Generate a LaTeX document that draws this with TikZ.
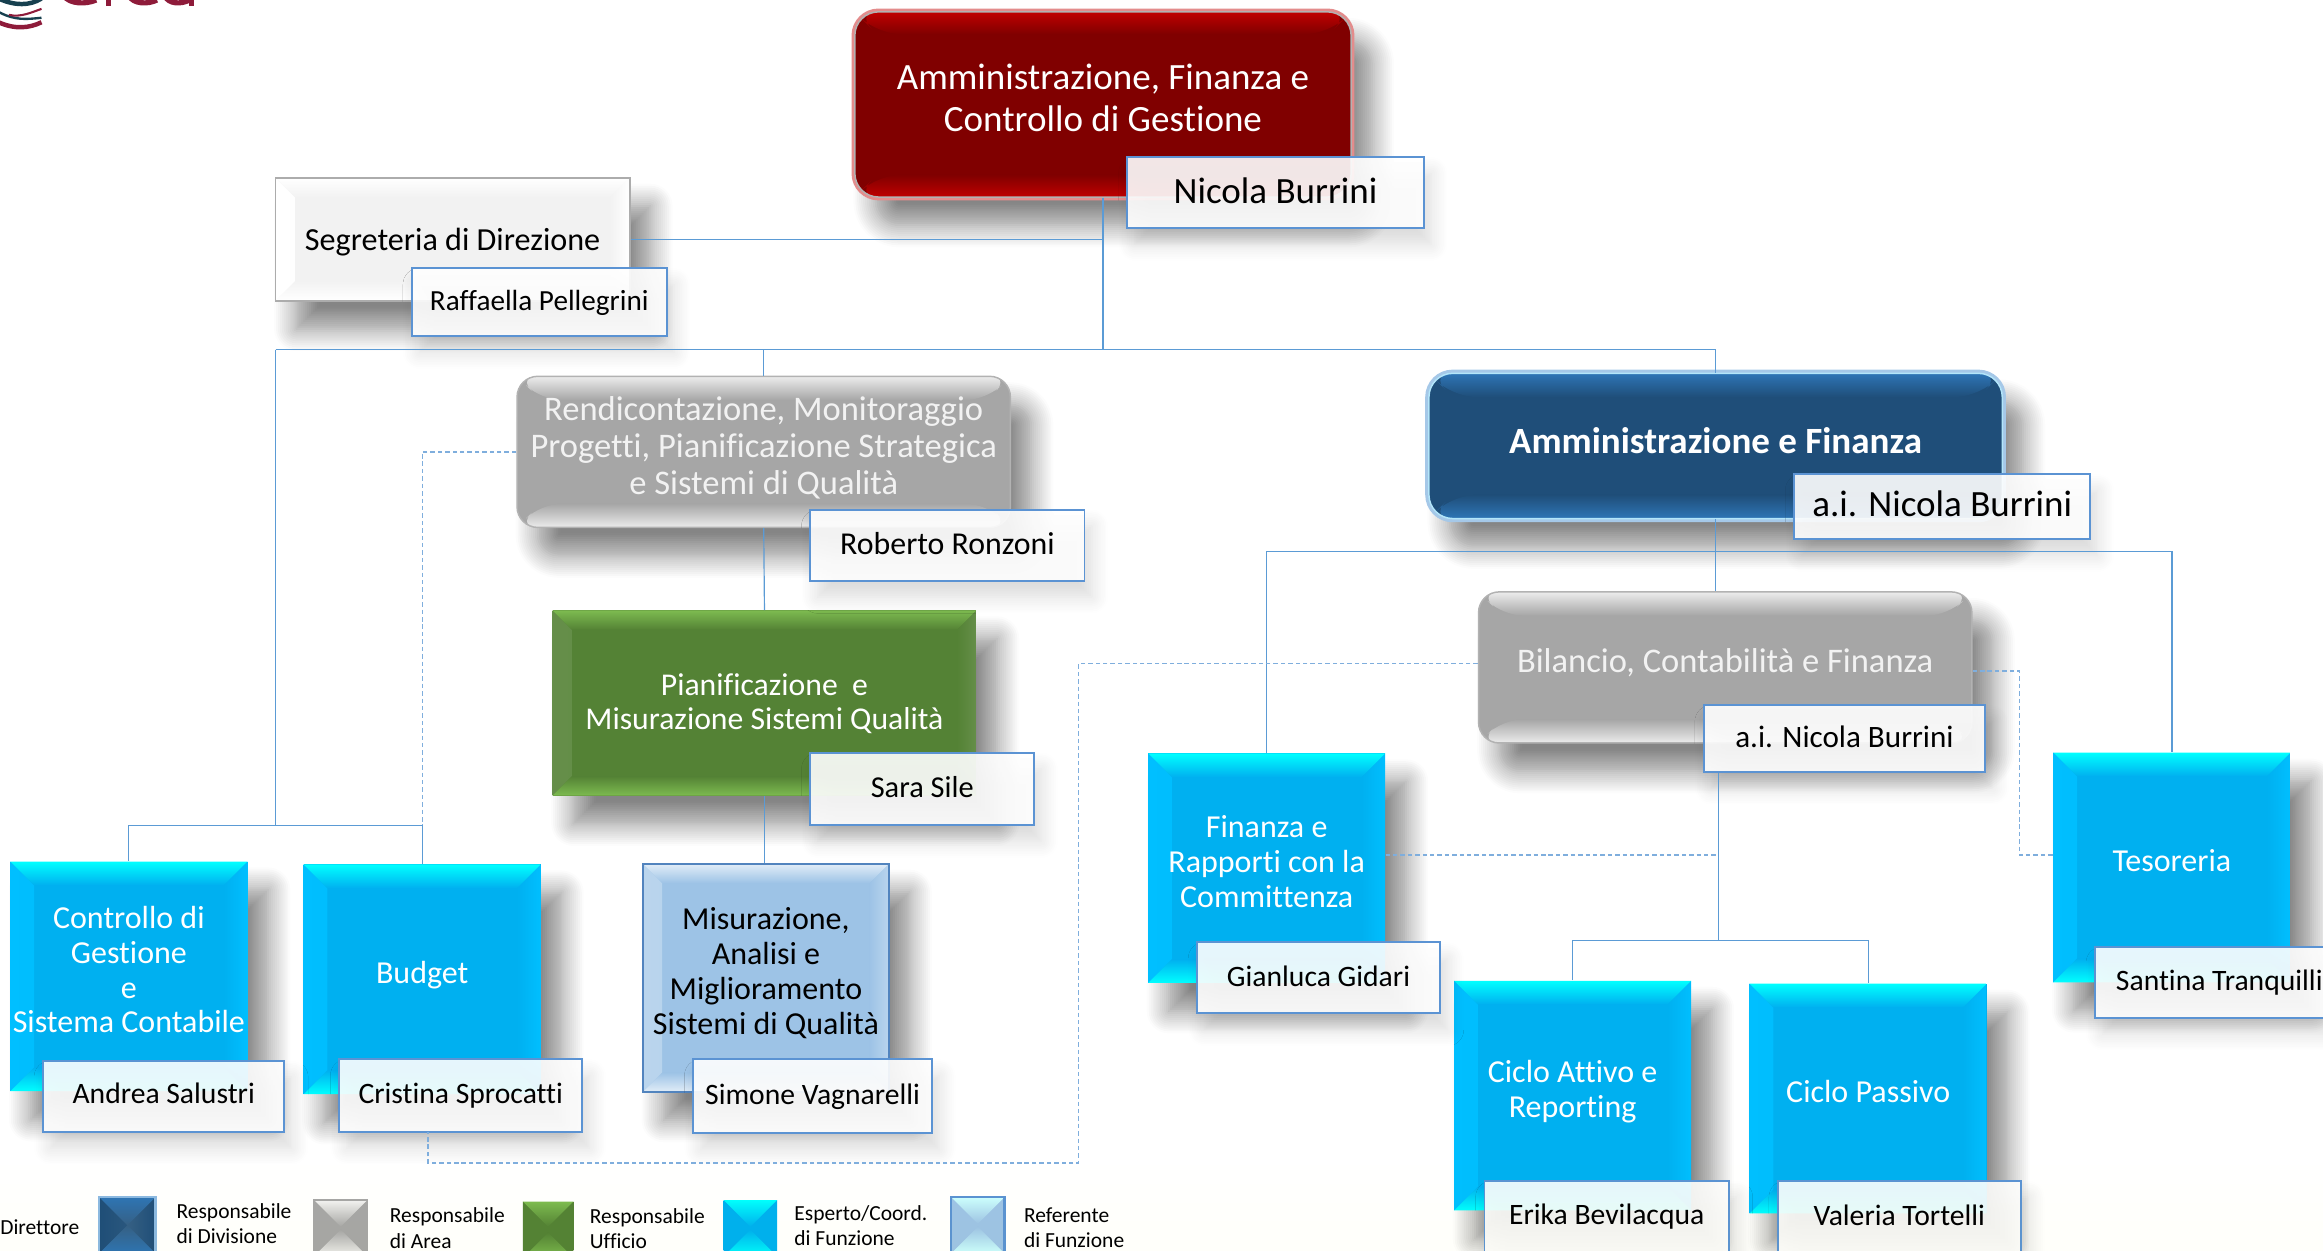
\documentclass[tikz,border=0pt]{standalone}
\usepackage{fontspec}
\setmainfont[Ligatures=CommonOff]{Carlito}
\usepackage{tikz}
\usetikzlibrary{shadows.blur}
\definecolor{linkblue}{HTML}{5B9BD5}
\definecolor{dashblue}{HTML}{7FAEDD}
\definecolor{labelblue}{HTML}{5B93D3}
\definecolor{esperto}{HTML}{00B0F0}
\definecolor{espertoside}{HTML}{00BFFF}
\definecolor{darkred}{HTML}{800000}
\definecolor{brightred}{HTML}{C00000}
\definecolor{navy}{HTML}{1F4E79}
\definecolor{navytop}{HTML}{2E75B6}
\definecolor{ufficio}{HTML}{548235}
\definecolor{ufficiotop}{HTML}{7DBB50}
\definecolor{areagrey}{HTML}{A6A6A6}
\definecolor{referente}{HTML}{9DC3E6}
\definecolor{logored}{HTML}{8E1B3A}
\definecolor{logoteal}{HTML}{17404F}
\tikzset{
    fs/.style 2 args={font=\fontsize{#1}{#2}\selectfont},
    % top and bottom colour / side colour / body colour / depth
    bevel/.style n args={4}{
        fill=#3,
        path picture={
            \shade[left color=#2,right color=#3] (path picture bounding box.north west) -- ([xshift=#4pt,yshift=-#4pt]path picture bounding box.north west) -- ([xshift=#4pt,yshift=#4pt]path picture bounding box.south west) -- (path picture bounding box.south west) -- cycle;
            \shade[left color=#3,right color=#2] (path picture bounding box.north east) -- ([xshift=-#4pt,yshift=-#4pt]path picture bounding box.north east) -- ([xshift=-#4pt,yshift=#4pt]path picture bounding box.south east) -- (path picture bounding box.south east) -- cycle;
            \shade[top color=#1,bottom color=#3] (path picture bounding box.north west) -- (path picture bounding box.north east) -- ([xshift=-#4pt,yshift=-#4pt]path picture bounding box.north east) -- ([xshift=#4pt,yshift=-#4pt]path picture bounding box.north west) -- cycle;
            \shade[bottom color=#1,top color=#3] (path picture bounding box.south west) -- (path picture bounding box.south east) -- ([xshift=-#4pt,yshift=#4pt]path picture bounding box.south east) -- ([xshift=#4pt,yshift=#4pt]path picture bounding box.south west) -- cycle;
        }
    },
    bigshadow/.style={blur shadow={shadow xshift=14pt,shadow yshift=-19pt,shadow blur radius=15pt,shadow blur steps=12,shadow opacity=48}},
    unitbox/.style={inner sep=0pt,align=center,text=white,text depth=9pt,fs={21.6}{23.5},bigshadow},
    espertobox/.style={unitbox,minimum width=160pt,minimum height=155pt,bevel={cyan}{espertoside}{esperto}{16}},
    areabox/.style={unitbox,minimum width=333pt,minimum height=102pt,rounded corners=14pt,draw=gray!60,line width=1pt,text=white!95!black,fs={23.3}{25},bevel={white!85!gray}{areagrey}{areagrey}{16}},
    namebox/.style={inner sep=0pt,draw=labelblue,line width=1.3pt,fill=white,fill opacity=.9,text opacity=1,fs={20}{24},
        blur shadow={shadow xshift=5pt,shadow yshift=-11pt,shadow blur radius=11pt,shadow blur steps=10,shadow opacity=16}},
    link/.style={draw=linkblue,line width=.8pt},
    dashlink/.style={draw=dashblue,line width=.9pt,dash pattern=on 3pt off 2pt},
    legend/.style={inner sep=0pt,anchor=west,align=left,fs={14.5}{17}},
    swatch/.style={inner sep=0pt,minimum width=36pt,minimum height=38pt},
}
\begin{document}
\begin{tikzpicture}[x=1pt,y=-1pt]
\useasboundingbox (0,0) rectangle (1568,844);
\clip (0,0) rectangle (1568,844);

% logo
\draw[logored,line width=3pt] (-1,15) .. controls (10,20) and (20,19) .. (28,15);
\draw[logoteal,line width=1.6pt] (-1,8) .. controls (10,14) and (18,13) .. (28,12);
\draw[logoteal,line width=3pt] (-1,-1) .. controls (10,4) and (20,4) .. (28,-1);
\draw[logored,line width=1.4pt] (6,10) .. controls (14,12) and (22,8) .. (28,6);
\draw[logored,line width=3.5pt] (43,-3) .. controls (47,3) and (58,3) .. (65,0);
\draw[logored,line width=3.5pt] (73,-3) -- (73,4);
\draw[logored,line width=3.5pt] (87,-3) .. controls (90,3) and (100,3) .. (106,0);
\draw[logored,line width=3.5pt] (111,-3) .. controls (114,3) and (122,3) .. (128,0);
\draw[logored,line width=3.5pt] (129,-3) -- (129,4);

% boxes
\node[unitbox,minimum width=335pt,minimum height=125pt,rounded corners=16pt,draw=gray!60,line width=1pt,
    preaction={draw=brightred!45,line width=4.5pt},fs={25}{28},bevel={brightred}{darkred}{darkred}{15}] (direzione) at (744.5,70.5) {Amministrazione, Finanza e\\Controllo di Gestione};
\node[minimum width=239pt,minimum height=83pt,inner sep=0pt,draw=gray!65,line width=1.2pt,fs={21.7}{25},text depth=0pt,bigshadow,bevel={white}{white}{black!5}{13}] (segreteria) at (305.5,161.5) {Segreteria di Direzione};
\node[areabox] (rendiconto) at (515.5,305) {Rendicontazione, Monitoraggio\\Progetti, Pianificazione Strategica\\e Sistemi di Qualità};
\node[unitbox,minimum width=387pt,minimum height=98pt,rounded corners=16pt,draw=cyan!30!white,line width=1pt,text depth=7pt,
    preaction={draw=linkblue!55,line width=5pt},font=\fontsize{25}{27}\selectfont\bfseries,bevel={navytop}{navy}{navy}{16}] (ammfin) at (1158,301) {Amministrazione e Finanza};
\node[unitbox,minimum width=286pt,minimum height=125pt,fs={21.4}{23},text depth=2pt,bevel={ufficiotop}{ufficio!90!white}{ufficio}{13}] (pianifica) at (516,474.5) {Pianificazione\ \ e\\Misurazione Sistemi Qualità};
\node[areabox,text depth=10pt] (bilancio) at (1164.5,450.5) {Bilancio, Contabilità e Finanza};
\node[espertobox] (controllo) at (87,659) {Controllo di\\Gestione\\e\\Sistema Contabile};
\node[espertobox] (budget) at (285,661) {Budget};
\node[unitbox,minimum width=166pt,minimum height=154pt,draw=labelblue!90!black,line width=1.5pt,text=black,bevel={white!70!referente}{referente!70!white}{referente}{13}] (misura) at (517,660) {Misurazione,\\Analisi e\\Miglioramento\\Sistemi di Qualità};
\node[espertobox] (finanza) at (855,586) {Finanza e\\Rapporti con la\\Committenza};
\node[espertobox] (tesoreria) at (1466,585.5) {Tesoreria};
\node[espertobox] (attivo) at (1061.5,739.5) {Ciclo Attivo e\\Reporting};
\node[espertobox] (passivo) at (1261,741.5) {Ciclo Passivo};

% names
\node[namebox,minimum width=200pt,minimum height=48pt,fs={25}{28},text depth=2pt] (direzioneName) at (861,130) {Nicola Burrini};
\node[namebox,minimum width=172pt,minimum height=46pt,fs={19.7}{24},text depth=3pt] (segreteriaName) at (364,204) {Raffaella Pellegrini};
\node[namebox,minimum width=185pt,minimum height=48pt,fs={21.5}{24},text depth=2pt] (rendicontoName) at (639.5,368) {Roberto Ronzoni};
\node[namebox,minimum width=151pt,minimum height=49pt,fs={20.5}{24},text depth=2pt] (pianificaName) at (622.5,532.5) {Sara Sile};
\node[namebox,minimum width=200pt,minimum height=44pt,fs={25}{28},text depth=4pt] (ammfinName) at (1311,342) {a.i. Nicola Burrini};
\node[namebox,minimum width=190pt,minimum height=45pt,fs={21}{24},text depth=2pt] (bilancioName) at (1245,498.5) {a.i. Nicola Burrini};
\node[namebox,minimum width=163pt,minimum height=48pt,text depth=4pt] (controlloName) at (110.5,740) {Andrea Salustri};
\node[namebox,minimum width=164pt,minimum height=49pt] (budgetName) at (311,739.5) {Cristina Sprocatti};
\node[namebox,minimum width=161pt,minimum height=50pt] (misuraName) at (548.5,740) {Simone Vagnarelli};
\node[namebox,minimum width=164pt,minimum height=48pt,text depth=2pt] (finanzaName) at (890,660) {Gianluca Gidari};
\node[namebox,minimum width=168pt,minimum height=48pt] (tesoreriaName) at (1498,663) {Santina Tranquilli};
\node[namebox,minimum width=165pt,minimum height=48pt] (attivoName) at (1084.5,821) {Erika Bevilacqua};
\node[namebox,minimum width=164pt,minimum height=48pt,text depth=2pt] (passivoName) at (1282,821) {Valeria Tortelli};

% connectors
\coordinate (busLeft) at (186,236);
\coordinate (busRight) at (1158,236);
\coordinate (busLow) at (186,557);
\coordinate (busFin) at (1158,372);
\coordinate (busCicli) at (1160,635);
\draw[link] (direzione.south) -- (direzione.south |- busLeft);
\draw[link] (segreteria.east) -- (segreteria.east -| direzione.south);
\draw[link] (busLeft) -- (busRight);
\draw[link] (busLeft) -- (busLow);
\draw[link] (controllo.north) |- (busLow) -| (budget.north);
\draw[link] (rendiconto.north) -- (rendiconto.north |- busLeft);
\draw[link] (rendiconto.south) -- (pianifica.north);
\draw[link] (pianifica.south) -- (misura.north -| pianifica.south);
\draw[link] (busRight) -- (ammfin.north);
\draw[link] (ammfin.south) -- (ammfin.south |- bilancio.north);
\draw[link] (finanza.north) |- (busFin) -| (tesoreria.north);
\draw[link] (bilancioName.south -| busCicli) -- (busCicli);
\draw[link] (attivo.north) |- (busCicli) -| (passivo.north);

\draw[dashlink] (rendiconto.west) -- (285,305) -- (285,557);
\draw[dashlink] (bilancio.west |- 0,448) -- (728,448) -- (728,785) -- (289,785) -- (289,764);
\draw[dashlink] (finanza.east |- 0,577) -- (1159,577);
\draw[dashlink] (bilancio.east |- 0,453) -- (1363,453) -- (1363,577) -- (tesoreria.west |- 0,577);

% legend
\node[legend] (direttore) at (0,828) {Direttore};
\node[swatch,minimum width=38pt,draw=linkblue!70,line width=1.5pt,bevel={navytop}{navy}{navy!90!white}{19}] (keyDivisione) at (86,827) {};
\node[legend] (keyDivisioneText) at (119,826) {Responsabile\\di Divisione};
\node[swatch,draw=gray!70,line width=1pt,bevel={white!90!gray}{areagrey}{areagrey}{18}] (keyArea) at (230,829) {};
\node[legend] (keyAreaText) at (263,829) {Responsabile\\di Area};
\node[swatch,minimum width=34pt,bevel={ufficiotop}{ufficio}{ufficio}{17}] (keyUfficio) at (370,830) {};
\node[legend] (keyUfficioText) at (398,829.5) {Responsabile\\Ufficio};
\node[swatch,bevel={cyan}{esperto}{esperto}{18}] (keyEsperto) at (506.5,829) {};
\node[legend] (keyEspertoText) at (536,827.5) {Esperto/Coord.\\di Funzione};
\node[swatch,draw=labelblue,line width=1.5pt,bevel={white!80!cyan}{referente}{referente}{18}] (keyReferente) at (660,827) {};
\node[legend] (keyReferenteText) at (691,828.5) {Referente\\di Funzione};

\begin{scope}[blend mode=multiply]
\shade[top color=white,bottom color=black!5!yellow!2!white] (0,780) rectangle (1568,844);
\end{scope}
\end{tikzpicture}
\end{document}
